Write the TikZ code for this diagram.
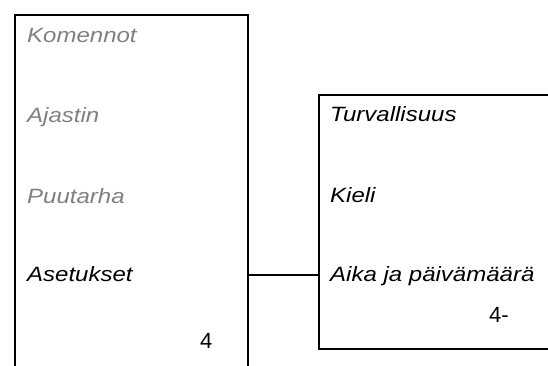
\documentclass[tikz,border=0pt]{standalone}
\usepackage{fontspec}
\setmainfont{Liberation Sans}[FakeStretch=1.16]
\newfontfamily\digitfont{Liberation Sans}
\usetikzlibrary{positioning}
\definecolor{menuGrey}{HTML}{808080}
\tikzset{
  panel/.style={draw=black,line width=2pt,rectangle,inner sep=0pt,anchor=north west},
  item/.style={anchor=base west,inner sep=0pt,font=\fontsize{20.7}{24}\selectfont\itshape},
  dimitem/.style={item,text=menuGrey},
  pagenum/.style={anchor=base west,inner sep=0pt,font=\fontsize{22}{26}\selectfont\digitfont}
}
\begin{document}
\begin{tikzpicture}[x=1pt,y=-1pt]
  \useasboundingbox (0,0) rectangle (548,366);
  \clip (0,0) rectangle (548,366);
  % the two menu panels, both cut by the page edge
  \node[panel,minimum width=233pt,minimum height=400pt] (menu) at (14,14) {};
  \node[panel,minimum width=300pt,minimum height=254pt] (submenu) at (318,94) {};
  % main menu
  \node[dimitem] (komennot) at (27,43) {Komennot};
  \node[dimitem] (ajastin) at (27,123) {Ajastin};
  \node[dimitem] (puutarha) at (27,203) {Puutarha};
  \node[item] (asetukset) at (27,281) {Asetukset};
  \node[pagenum] (numA) at (200,348) {4};
  % settings menu
  \node[item] (turva) at (330,122) {Turvallisuus};
  \node[item] (kieli) at (330,202) {Kieli};
  \node[item] (aika) at (330,281) {Aika ja päivämäärä};
  \node[pagenum] (numB) at (489,322) {4-};
  \draw[line width=2pt] ([yshift=-1.5pt]asetukset.center -| menu.east) -- ([yshift=-1.5pt]asetukset.center -| submenu.west);
\end{tikzpicture}
\end{document}
